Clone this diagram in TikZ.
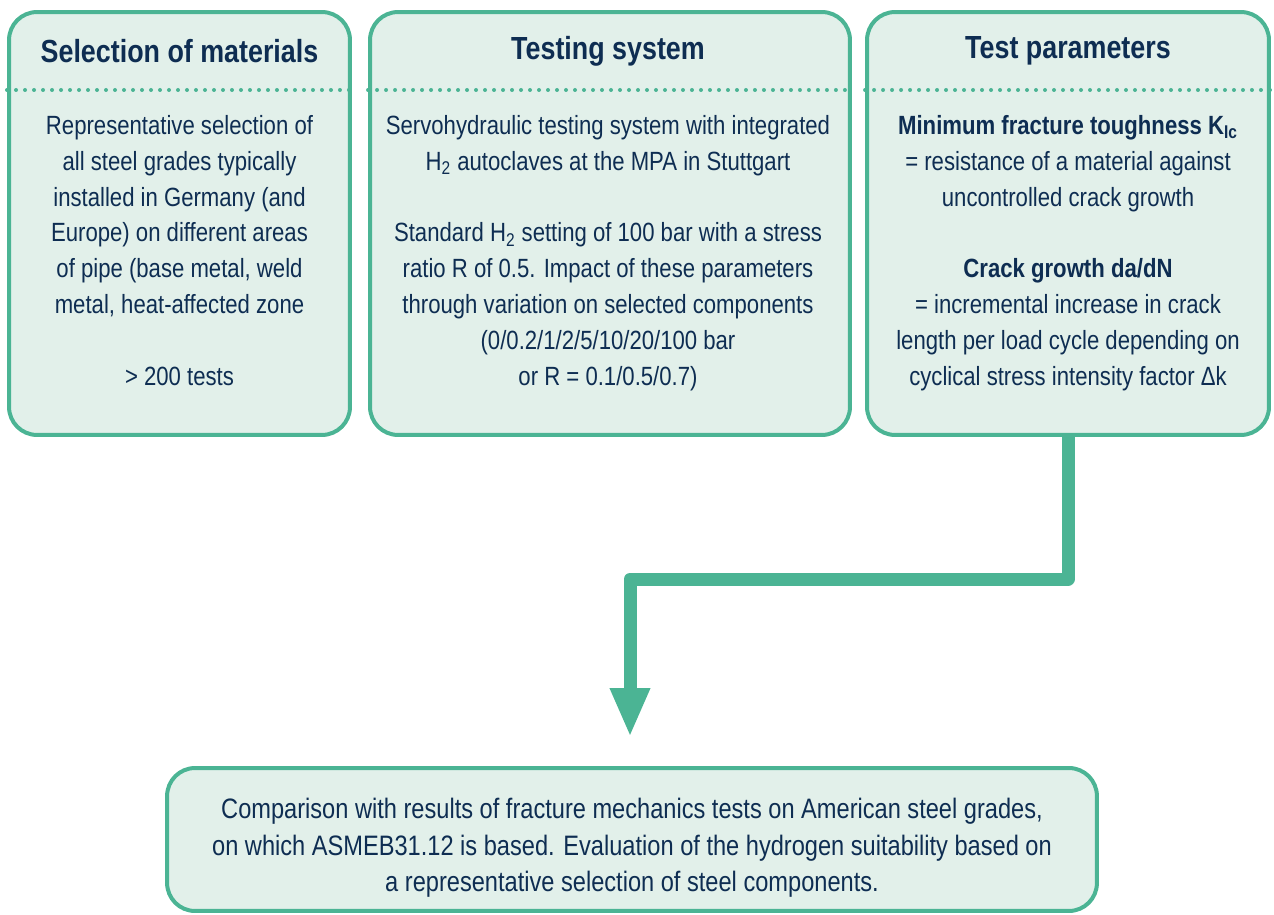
\documentclass[tikz,border=0pt]{standalone}
\usepackage{fontspec}
\setmainfont[FakeStretch=0.84]{Liberation Sans}
\usetikzlibrary{arrows.meta}
\definecolor{mpagreen}{RGB}{75,180,148}
\definecolor{mpafill}{RGB}{226,240,234}
\definecolor{mpanavy}{RGB}{14,45,82}
\newcommand{\FrameColor}{mpagreen}
\newcommand{\BoxColor}{mpafill}
\newcommand{\InkColor}{mpanavy}

\begin{document}
\begin{tikzpicture}[
	% pixel grid of the layout, y pointing down
	x=0.02cm, y=-0.02cm,
	panel/.style={rectangle, draw=\FrameColor, fill=\BoxColor, line width=0.08cm, rounded corners=0.56cm},
	heading/.style={font=\fontsize{18.2}{22}\selectfont\bfseries, text=\InkColor, inner sep=0},
	body/.style={font=\fontsize{15}{20.4}\selectfont, text=\InkColor, align=center, anchor=north, inner sep=0},
	dots/.style={draw=\FrameColor, line width=0.08cm, line cap=round, dash pattern=on 0pt off 0.18cm},
	flow/.style={draw=\FrameColor, line width=0.26cm, line join=round, -{Triangle[width=0.74cm,length=0.98cm]}}
	]
	\useasboundingbox (0,0) rectangle (1274,915);
	% \draw[help lines] (0,0) grid (1274,915);

	\coordinate (sep) at (0,90);
	\coordinate (bend) at (630,579);
	\coordinate (tip) at (630,737);

	\draw (179.5,223.5) node[panel, minimum width=6.82cm, minimum height=8.46cm] (materials) {};
	\draw (610,223.5) node[panel, minimum width=9.6cm, minimum height=8.46cm] (system) {};
	\draw (1068,223.5) node[panel, minimum width=8.04cm, minimum height=8.46cm] (params) {};
	\draw (632,839.5) node[panel, minimum width=18.6cm, minimum height=2.86cm] (result) {};

	\draw[dots] (materials.west |- sep) -- (materials.east |- sep);
	\draw[dots] (system.west |- sep) -- (system.east |- sep);
	\draw[dots] (params.west |- sep) -- (params.east |- sep);

		\draw (179.5,51) node[heading] (materials_head) {Selection of materials};
		\draw (608,51) node[heading] (system_head) {Testing system};
		\draw (1068,51) node[heading] (params_head) {Test parameters};

		\draw (179.5,115) node[body] (materials_text) {Representative selection of\\ all steel grades typically\\ installed in Germany (and\\ Europe) on different areas\\ of pipe (base metal, weld\\ metal, heat-affected zone\\[20.4pt] > 200 tests};
		\draw (608,115) node[body] (system_text) {Servohydraulic testing system with integrated\\ H\textsubscript{2} autoclaves at the MPA in Stuttgart\\[20.4pt] Standard H\textsubscript{2} setting of 100 bar with a stress\\ ratio R of 0.5. Impact of these parameters\\ through variation on selected components\\ (0/0.2/1/2/5/10/20/100 bar\\ or R = 0.1/0.5/0.7)};
		\draw (1068,115) node[body] (params_text) {\textbf{Minimum fracture toughness K\textsubscript{Ic}}\\ = resistance of a material against\\ uncontrolled crack growth\\[20.4pt] \textbf{Crack growth da/dN}\\ = incremental increase in crack\\ length per load cycle depending on\\ cyclical stress intensity factor Δk};

		\draw (632,798) node[body, font=\fontsize{16}{20.7}\selectfont] (result_text) {Comparison with results of fracture mechanics tests on American steel grades,\\ on which ASMEB31.12 is based. Evaluation of the hydrogen suitability based on\\ a representative selection of steel components.};

	\draw[flow] (params.south) |- (bend) -- (tip);

\end{tikzpicture}
\end{document}
